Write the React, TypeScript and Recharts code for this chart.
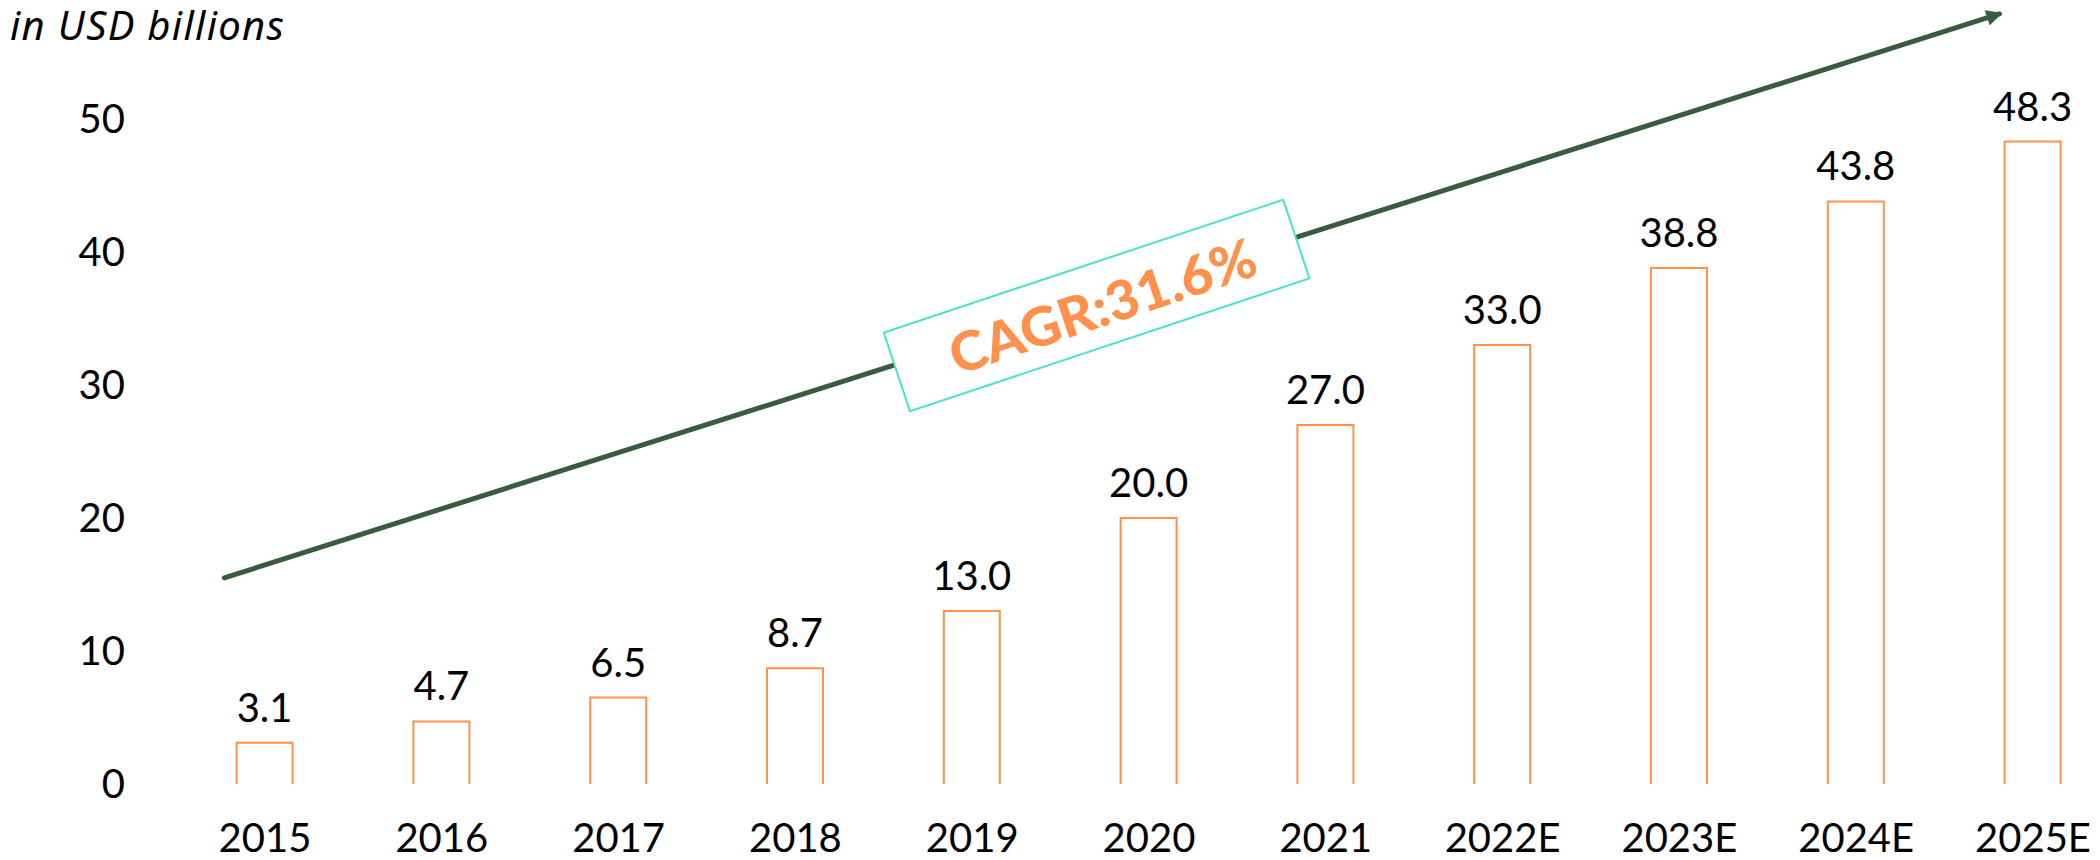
import { BarChart, Bar, XAxis, YAxis, LabelList, ReferenceLine, ReferenceDot } from 'recharts';

const YEARS = ['2015', '2016', '2017', '2018', '2019', '2020', '2021', '2022E', '2023E', '2024E', '2025E'];
const VALUES = [3.1, 4.7, 6.5, 8.7, 13.0, 20.0, 27.0, 33.0, 38.8, 43.8, 48.3];
const Y_TICKS = [0, 10, 20, 30, 40, 50];
const UNIT_LABEL = 'in USD billions';
const CAGR_LABEL = 'CAGR:31.6%';

// trend arrow and badge, in data units (x = category index, y = value)
const TREND_FROM = { x: -0.23, y: 15.5 };
const TREND_TO = { x: 9.81, y: 57.9 };
const BADGE_AT = { x: 4.7, y: 36.0 };

const ORANGE = '#FF914D';
const GREEN = '#3A5B3E';
const TEAL = '#4DE2C5';
const FONT = 'Lato, "Noto Sans", sans-serif';

const data = YEARS.map((year, i) => ({ idx: i, year, value: VALUES[i] }));

const TICK = { fill: '#000', fontSize: 40, fontFamily: FONT };

function OpenBar(props: any) {
  const { x, y, width, height } = props;
  if (height == null || width == null) return null;
  return (
    <path
      d={`M${x},${y + height} L${x},${y} L${x + width},${y} L${x + width},${y + height}`}
      fill="none"
      stroke={ORANGE}
      strokeWidth={2}
    />
  );
}

function Badge(props: any) {
  const { cx, cy } = props;
  return (
    <g transform={`rotate(-18.4 ${cx} ${cy})`}>
      <rect x={cx - 210} y={cy - 41} width={421} height={83} fill="#fff" stroke={TEAL} strokeWidth={2} />
      <text
        x={cx + 6}
        y={cy + 2}
        textAnchor="middle"
        dominantBaseline="central"
        fill={ORANGE}
        fontSize={54}
        fontWeight={900}
        fontFamily={FONT}
        textLength={320}
        lengthAdjust="spacingAndGlyphs"
      >
        {CAGR_LABEL}
      </text>
    </g>
  );
}

export default function App() {
  return (
    <div style={{ position: 'absolute', left: 0, top: 0, width: 2100, height: 860, background: '#fff' }}>
      <div
        style={{
          position: 'absolute',
          left: 10,
          top: -3,
          fontFamily: '"Noto Sans", sans-serif',
          fontStyle: 'italic',
          fontSize: 40,
          letterSpacing: 1.3,
          color: '#000',
          whiteSpace: 'nowrap',
        }}
      >
        {UNIT_LABEL}
      </div>
      <BarChart
        width={2100}
        height={860}
        data={data}
        margin={{ top: 119, right: 0, bottom: 0, left: 0 }}
        style={{ fontFamily: FONT }}
      >
        <defs>
          <marker
            id="trendHead"
            viewBox="0 0 10 10"
            refX="8"
            refY="5"
            markerWidth="3.6"
            markerHeight="3.2"
            orient="auto"
            markerUnits="strokeWidth"
          >
            <path d="M0,0 L10,5 L0,10 z" fill={GREEN} />
          </marker>
        </defs>
        <XAxis
          dataKey="idx"
          type="number"
          domain={[0, 10]}
          ticks={YEARS.map((_, i) => i)}
          interval={0}
          tickFormatter={(i: number) => YEARS[i]}
          padding={{ left: 125, right: 67 }}
          axisLine={false}
          tickLine={false}
          tickSize={0}
          tickMargin={40}
          height={76}
          tick={TICK}
        />
        <YAxis
          domain={[0, 50]}
          ticks={Y_TICKS}
          width={140}
          axisLine={false}
          tickLine={false}
          tickSize={8}
          tickMargin={7}
          tick={TICK}
        />
        <ReferenceLine
          segment={[TREND_FROM, TREND_TO]}
          ifOverflow="visible"
          stroke={GREEN}
          strokeWidth={5}
          strokeLinecap="round"
          markerEnd="url(#trendHead)"
        />
        <Bar dataKey="value" barSize={56} shape={OpenBar} isAnimationActive={false}>
          <LabelList
            dataKey="value"
            position="top"
            offset={21}
            formatter={(v: number) => v.toFixed(1)}
            fill="#000"
            fontSize={40}
            fontFamily={FONT}
          />
        </Bar>
        <ReferenceDot x={BADGE_AT.x} y={BADGE_AT.y} ifOverflow="visible" shape={Badge} />
      </BarChart>
    </div>
  );
}
